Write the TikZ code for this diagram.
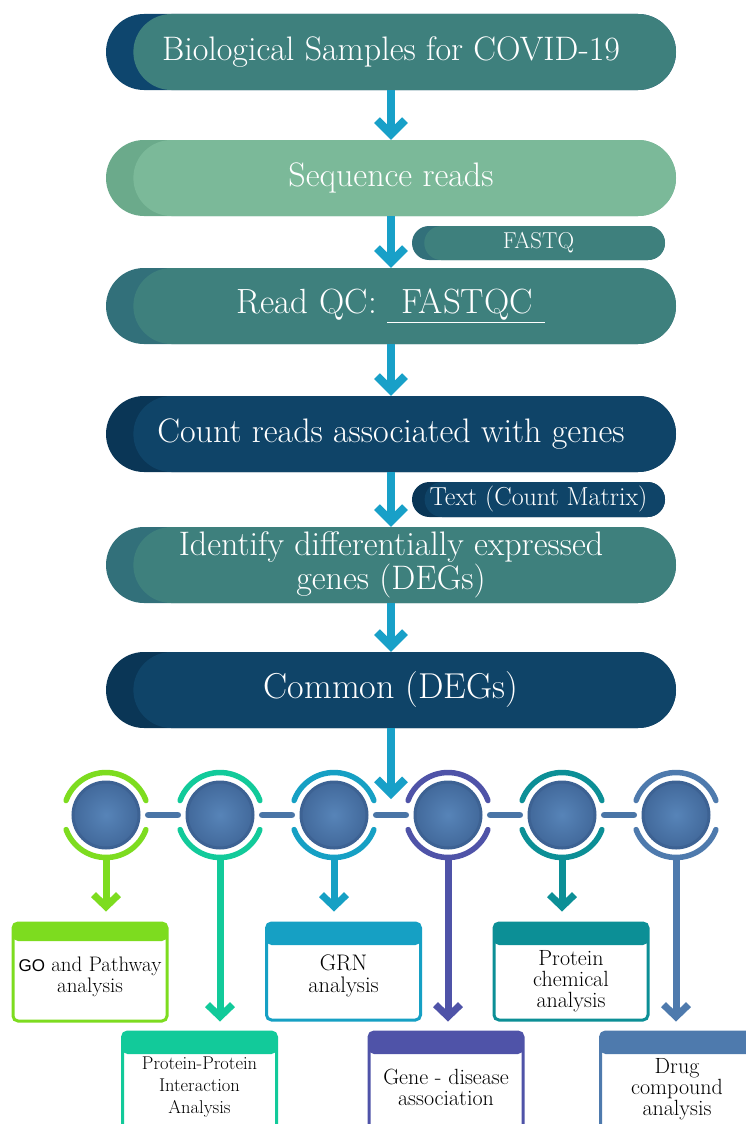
\documentclass[tikz,border=0pt]{standalone}
\usepackage{fontspec}
\newfontfamily\arialf{Liberation Sans}
\usetikzlibrary{arrows.meta}
\definecolor{arrowblue}{HTML}{18A0C8}
\definecolor{tealF}{HTML}{3E807D}
\definecolor{tealB}{HTML}{32707A}
\definecolor{navyF}{HTML}{0F4468}
\definecolor{navyB}{HTML}{0A3656}
\definecolor{navyB1}{HTML}{0E466E}
\definecolor{greenF}{HTML}{7BB999}
\definecolor{greenB}{HTML}{6BAA8B}
\definecolor{cGreen}{HTML}{7DDC1F}
\definecolor{cMint}{HTML}{12CA9A}
\definecolor{cBlue}{HTML}{16A0C4}
\definecolor{cPurple}{HTML}{4F53A8}
\definecolor{cTeal}{HTML}{0C8F96}
\definecolor{cSteel}{HTML}{4E7AAD}
\definecolor{barcol}{HTML}{4A75A6}
\definecolor{ringcol}{HTML}{3D6293}
\definecolor{innerC}{HTML}{5784B8}
\definecolor{outerC}{HTML}{42699B}

\newcommand\mypill[8][]{%
  \fill[#6, rounded corners=#5 pt] (#2,#4-#5) rectangle (#3,#4+#5);
  \fill[#7, rounded corners=#5 pt] (#2+0.72*#5,#4-#5) rectangle (#3,#4+#5);
  \node[pilltext, minimum width={(#3-#2)*1pt}, minimum height={2*#5*1pt}, #1]
    (#8) at ({(#2+#3)/2},#4) {\pilltxt};
}

\begin{document}
\begin{tikzpicture}[x=1pt,y=-1pt,
  pilltext/.style={inner sep=0pt, text=white, align=center,
    font=\fontsize{34}{34}\selectfont},
  varrow/.style={draw=arrowblue, line width=8.5pt,
    -{Straight Barb[length=14pt, width=28pt, line width=8pt]}},
  stem/.style={draw=#1, line width=7pt,
    -{Straight Barb[length=12pt, width=25pt, line width=7pt]}},
  incircle/.style={circle, minimum size=66pt, inner sep=0pt,
    inner color=innerC, outer color=outerC, draw=ringcol, line width=3pt},
  outcircle/.style={circle, minimum size=84pt, inner sep=0pt},
  arcsty/.style={draw=#1, line width=5.5pt, line cap=round},
  bar/.style={draw=barcol, line width=6.5pt, line cap=round},
  abox/.style={rectangle, draw=#1, line width=3pt, fill=white,
    rounded corners=5pt, minimum width=154pt, inner sep=0pt,
    path picture={\fill[#1] (path picture bounding box.north west)
      rectangle ([yshift=-\hdr]path picture bounding box.north east);}},
  btext/.style={align=center, inner sep=0pt, text=black,
    font=\fontsize{22}{21}\selectfont}
]
\useasboundingbox (0,0) rectangle (745,1124);
\fill[white] (0,0) rectangle (745,1124);

% pills
\def\pilltxt{Biological Samples for COVID-19}
\mypill{106}{676}{52}{38}{navyB1}{tealF}{p1}
\def\pilltxt{Sequence reads}
\mypill{106}{676}{178}{38}{greenB}{greenF}{p2}
\def\pilltxt{FASTQ}
\mypill[font=\fontsize{23}{24}\selectfont]{412}{665}{243}{17}{tealB}{tealF}{q1}
\def\pilltxt{Read QC: \underline{\hspace{0.4em}FASTQC\hspace{0.35em}}}
\mypill[font=\fontsize{35}{34}\selectfont]{106}{676}{306}{38}{tealB}{tealF}{p3}
\def\pilltxt{Count reads associated with genes}
\mypill{106}{676}{434}{38}{navyB}{navyF}{p4}
\def\pilltxt{Text (Count Matrix)}
\mypill[font=\fontsize{26}{24}\selectfont]{412}{665}{499.5}{17.5}{navyB}{navyF}{q2}
\def\pilltxt{Identify differentially expressed\\genes (DEGs)}
\mypill{106}{676}{565}{38}{tealB}{tealF}{p5}
\def\pilltxt{Common (DEGs)}
\mypill[font=\fontsize{36}{34}\selectfont]{106}{676}{690}{38}{navyB}{navyF}{p6}

% vertical arrows
\draw[varrow] (p1.south) -- (p2.north);
\draw[varrow] (p2.south) -- (p3.north);
\draw[varrow] (p3.south) -- (p4.north);
\draw[varrow] (p4.south) -- (p5.north);
\draw[varrow] (p5.south) -- (p6.north);
\coordinate (tip6) at (391,799);
\draw[varrow] (p6.south) -- (tip6);

% circles
\foreach \i/\cx/\col in {1/106/cGreen,2/220/cMint,3/334/cBlue,4/448/cPurple,5/562/cTeal,6/676/cSteel}{
  \node[outcircle] (co\i) at (\cx,815) {};
  \node[incircle] (c\i) at (\cx,815) {};
  \draw[arcsty=\col] (co\i.center) ++(20:42.5) arc[start angle=20, end angle=160, radius=42.5];
  \draw[arcsty=\col] (co\i.center) ++(200:42.5) arc[start angle=200, end angle=340, radius=42.5];
}
\foreach \i/\j in {1/2,2/3,3/4,4/5,5/6}{
  \draw[bar] (co\i.east) -- (co\j.west);
}

% boxes
\def\hdr{18pt}
\node[abox=cGreen, minimum height=98pt] (b1) at (90,972) {};
\def\hdr{22pt}
\node[abox=cBlue, minimum height=97pt] (b3) at (343.5,971.5) {};
\node[abox=cTeal, minimum height=97pt] (b5) at (571,971.5) {};
\node[abox=cMint, minimum height=108pt] (b2) at (199.5,1086) {};
\node[abox=cPurple, minimum height=108pt] (b4) at (446,1086) {};
\node[abox=cSteel, minimum height=108pt] (b6) at (677.5,1086) {};

% stems
\draw[stem=cGreen] (co1.south) -- ([yshift=10pt]co1.south |- b1.north);
\draw[stem=cMint] (co2.south) -- ([yshift=9pt]co2.south |- b2.north);
\draw[stem=cBlue] (co3.south) -- ([yshift=10pt]co3.south |- b3.north);
\draw[stem=cPurple] (co4.south) -- ([yshift=9pt]co4.south |- b4.north);
\draw[stem=cTeal] (co5.south) -- ([yshift=10pt]co5.south |- b5.north);
\draw[stem=cSteel] (co6.south) -- ([yshift=9pt]co6.south |- b6.north);

% box texts
\node[btext, font=\fontsize{21}{20.5}\selectfont] (t1) at (90,977) {{\arialf\fontsize{17}{19}\selectfont GO} and Pathway\\analysis};
\node[btext, font=\fontsize{18.5}{22}\selectfont] (t2) at (199.5,1087) {Protein-Protein\\Interaction\\Analysis};
\node[btext, font=\fontsize{22.5}{21.5}\selectfont] (t3) at (343.5,976) {GRN\\analysis};
\node[btext] (t4) at (446,1087) {Gene - disease\\association};
\node[btext] (t5) at (571,981) {Protein\\chemical\\analysis};
\node[btext] (t6) at (677,1089) {Drug\\compound\\analysis};
\end{tikzpicture}
\end{document}
